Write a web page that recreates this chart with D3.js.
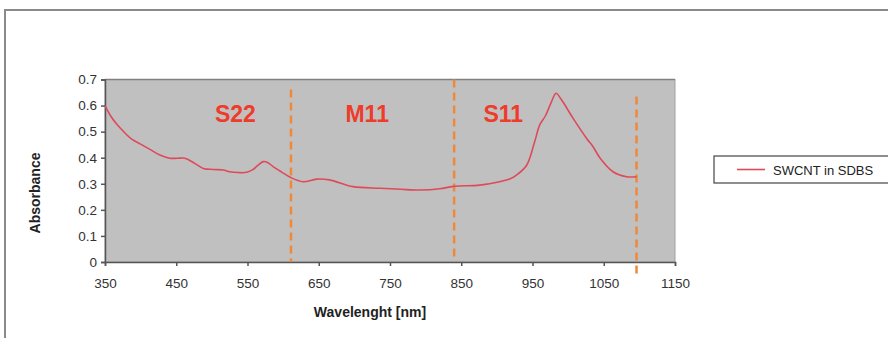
<!DOCTYPE html>
<html><head><meta charset="utf-8">
<script src="https://cdn.jsdelivr.net/npm/d3@7/dist/d3.min.js"></script>
<style>body{margin:0;background:#fff;}svg{display:block;font-family:Arial,"Liberation Sans",sans-serif;}</style>
</head><body>
<svg id="c" width="888" height="338"></svg>
<script>
const wavelength = [350,358,366,378,388,400,413,427,441,452,462,475,488,502,516,525,537,549,558,565,572,578,586,598,610,628,647,665,698,736,765,792,820,839,876,904,918,928,942,953,960,968,976,983,990,1007,1026,1035,1045,1063,1082,1096];
const absorbance = [0.60,0.56,0.53,0.495,0.47,0.452,0.432,0.41,0.398,0.398,0.398,0.38,0.359,0.355,0.353,0.346,0.343,0.344,0.355,0.372,0.385,0.382,0.366,0.345,0.325,0.308,0.318,0.315,0.289,0.283,0.279,0.276,0.281,0.290,0.295,0.308,0.318,0.334,0.372,0.461,0.525,0.56,0.61,0.647,0.625,0.551,0.474,0.442,0.398,0.346,0.327,0.327];
const xTicks = [350,450,550,650,750,850,950,1050,1150];
const yTicks = [0,0.1,0.2,0.3,0.4,0.5,0.6,0.7];
const regionBounds = [611,840,1096];
const regionTops = [0.662,0.7,0.635];
const regionLabels = [{name:"S22", at:533},{name:"M11", at:718},{name:"S11", at:909}];
const seriesName = "SWCNT in SDBS";

const svg = d3.select("#c");
const L=105, R=675, T=79.5, B=262;
const x = d3.scaleLinear().domain([350,1150]).range([L,R]);
const y = d3.scaleLinear().domain([0,0.7]).range([B,T]);

// outer border
svg.append("rect").attr("x",5).attr("y",10).attr("width",890).attr("height",340)
  .attr("fill","none").attr("stroke","#8a8a8a").attr("stroke-width",2);

// plot area
svg.append("rect").attr("x",L).attr("y",T).attr("width",R-L).attr("height",B-T)
  .attr("fill","#c0c0c0").attr("stroke","#a0a0a0").attr("stroke-width",1);
svg.append("line").attr("x1",L).attr("x2",R).attr("y1",T).attr("y2",T).attr("stroke","#808080").attr("stroke-width",1.5);

// axes
const xAxis = d3.axisBottom(x).tickValues(xTicks).tickSize(4).tickFormat(d3.format("d"));
const gx = svg.append("g").attr("transform",`translate(0,${B})`).call(xAxis);
const yAxis = d3.axisLeft(y).tickValues(yTicks).tickSize(4).tickFormat(d=>d===0?"0":d3.format(".1f")(d));
const gy = svg.append("g").attr("transform",`translate(${L},0)`).call(yAxis);
[gx,gy].forEach(g=>{
  g.select(".domain").attr("stroke","#555").attr("stroke-width",1.5);
  g.selectAll(".tick line").attr("stroke","#555").attr("stroke-width",1.5);
  g.selectAll(".tick text").attr("fill","#333").attr("font-size",13.5).attr("font-family","Arial,'Liberation Sans',sans-serif");
});
gx.selectAll(".tick text").attr("dy","0.71em").attr("y",16);
gy.selectAll(".tick text").attr("x",-8);

// dashed region lines
svg.selectAll(".reg").data(regionBounds).enter().append("line")
  .attr("x1",d=>x(d)).attr("x2",d=>x(d))
  .attr("y1",(d,i)=>y(regionTops[i]))
  .attr("y2",(d,i)=>i===2?B+13:B)
  .attr("stroke","#f0883a").attr("stroke-width",2.5).attr("stroke-dasharray","8,5");

// region labels
svg.selectAll(".rl").data(regionLabels).enter().append("text")
  .attr("x",d=>x(d.at)).attr("y",122).attr("text-anchor","middle")
  .attr("font-size",23).attr("font-weight","bold").attr("fill","#ee3b2a").text(d=>d.name);

// curve
const pts = wavelength.map((w,i)=>[w,absorbance[i]]);
svg.append("path").datum(pts)
  .attr("d",d3.line().x(d=>x(d[0])).y(d=>y(d[1])).curve(d3.curveCatmullRom.alpha(0.5)))
  .attr("fill","none").attr("stroke","#dd4a5a").attr("stroke-width",1.6);

// axis titles
svg.append("text").attr("x",370).attr("y",317).attr("text-anchor","middle")
  .attr("font-size",14).attr("font-weight","bold").attr("fill","#222").text("Wavelenght [nm]");
svg.append("text").attr("transform","translate(40,193) rotate(-90)").attr("text-anchor","middle")
  .attr("font-size",14).attr("font-weight","bold").attr("fill","#222").text("Absorbance");

// legend
svg.append("rect").attr("x",714).attr("y",156).attr("width",180).attr("height",27)
  .attr("fill","#fff").attr("stroke","#444").attr("stroke-width",1.2);
svg.append("line").attr("x1",737).attr("x2",765).attr("y1",169.5).attr("y2",169.5)
  .attr("stroke","#dd4a5a").attr("stroke-width",1.6);
svg.append("text").attr("x",773).attr("y",174.5).attr("font-size",13).attr("fill","#222").text(seriesName);
</script>
</body></html>
